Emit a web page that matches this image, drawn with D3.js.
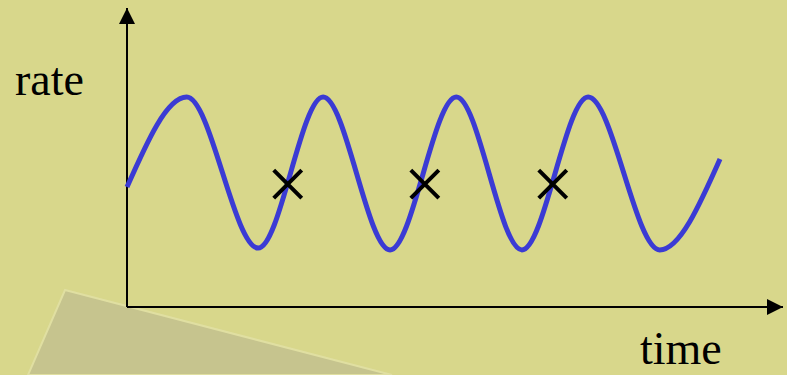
<!DOCTYPE html>
<html>
<head>
<meta charset="utf-8">
<script src="https://cdn.jsdelivr.net/npm/d3@7"></script>
<style>
  html, body { margin: 0; padding: 0; background: #d8d78b; }
  #chart { width: 787px; height: 375px; }
  .label { font-family: "Liberation Serif", "Times New Roman", serif; font-size: 46px; fill: #000; }
</style>
</head>
<body>
<div id="chart"></div>
<script>

// wave: peaks, troughs, start and end
var timeValues = [0, 0.91, 2.0, 2.99, 4.01, 5.02, 6.02, 7.03, 8.12, 9.04];
var rateValues = [4.01, 7.02, 1.97, 7.02, 1.91, 7.02, 1.91, 7.02, 1.91, 4.95];

// the three crosses on the rising edges
var markTimes = [2.45, 4.54, 6.49];
var markRates = [4.11, 4.11, 4.11];

var axisLabels = ["rate", "time"];


WaveChart = function(_parentElement){
  this.parentElement = _parentElement;
  this.displayData = [];
  this.marks = [];

  this.initVis();
}

WaveChart.prototype.initVis = function(){
  var vis = this;

  vis.width = 787;
  vis.height = 375;

  vis.svg = d3.select("#" + vis.parentElement).append("svg")
    .attr("width", vis.width)
    .attr("height", vis.height);

  // background (paper colour plus the faint sheet in the corner)
  vis.svg.append("rect")
    .attr("width", vis.width)
    .attr("height", vis.height)
    .attr("fill", "#d8d78b");

  vis.svg.append("path")
    .attr("d", "M65,290 L392,375 L28,375 Z")
    .attr("fill", "#c3c18f")
    .attr("stroke", "#e2e1a6")
    .attr("stroke-width", 2)
    .attr("opacity", 0.85);

  // Scales
  vis.x = d3.scaleLinear()
    .domain([0, 10])
    .range([127, 783]);

  vis.y = d3.scaleLinear()
    .domain([0, 10])
    .range([307, 8]);

  // arrow heads
  var defs = vis.svg.append("defs");
  defs.append("marker")
    .attr("id", "arrow")
    .attr("markerUnits", "userSpaceOnUse")
    .attr("viewBox", "0 0 16 16")
    .attr("refX", 16)
    .attr("refY", 8)
    .attr("markerWidth", 16)
    .attr("markerHeight", 16)
    .attr("orient", "auto")
    .append("path")
      .attr("d", "M0,0 L16,8 L0,16 Z")
      .attr("fill", "#000");

  vis.axisG = vis.svg.append("g").attr("class", "axes");
  vis.plotG = vis.svg.append("g").attr("class", "plot");

  vis.wrangleData();
}

WaveChart.prototype.wrangleData = function(){
  var vis = this;

  vis.displayData = timeValues.map(function(t, i){
    return { time: t, rate: rateValues[i] };
  });
  vis.marks = markTimes.map(function(t, i){
    return { time: t, rate: markRates[i] };
  });

  vis.updateVis();
}

WaveChart.prototype.updateVis = function(){
  var vis = this;

  var x0 = vis.x(0), y0 = vis.y(0);

  // axes
  vis.axisG.append("line")
    .attr("x1", x0).attr("y1", y0)
    .attr("x2", x0).attr("y2", vis.y(10))
    .attr("stroke", "#000")
    .attr("stroke-width", 2)
    .attr("marker-end", "url(#arrow)");

  vis.axisG.append("line")
    .attr("x1", x0).attr("y1", y0)
    .attr("x2", vis.x(10)).attr("y2", y0)
    .attr("stroke", "#000")
    .attr("stroke-width", 2)
    .attr("marker-end", "url(#arrow)");

  vis.axisG.append("text")
    .attr("class", "label")
    .attr("x", 15)
    .attr("y", 95)
    .text(axisLabels[0]);

  vis.axisG.append("text")
    .attr("class", "label")
    .attr("x", 640)
    .attr("y", 364)
    .text(axisLabels[1]);

  // wave
  var line = d3.line()
    .x(function(d){ return vis.x(d.time); })
    .y(function(d){ return vis.y(d.rate); })
    .curve(d3.curveMonotoneX);

  vis.plotG.append("path")
    .datum(vis.displayData)
    .attr("d", line)
    .attr("fill", "none")
    .attr("stroke", "#3b3bd4")
    .attr("stroke-width", 5)
    .attr("stroke-linecap", "butt");

  // crosses
  var h = 14;
  vis.plotG.selectAll(".mark")
    .data(vis.marks)
    .enter().append("path")
      .attr("class", "mark")
      .attr("transform", function(d){ return "translate(" + vis.x(d.time) + "," + vis.y(d.rate) + ")"; })
      .attr("d", "M" + (-h) + "," + (-h) + "L" + h + "," + h + "M" + (-h) + "," + h + "L" + h + "," + (-h))
      .attr("stroke", "#000")
      .attr("stroke-width", 4)
      .attr("fill", "none");
}

new WaveChart("chart");

</script>
</body>
</html>
